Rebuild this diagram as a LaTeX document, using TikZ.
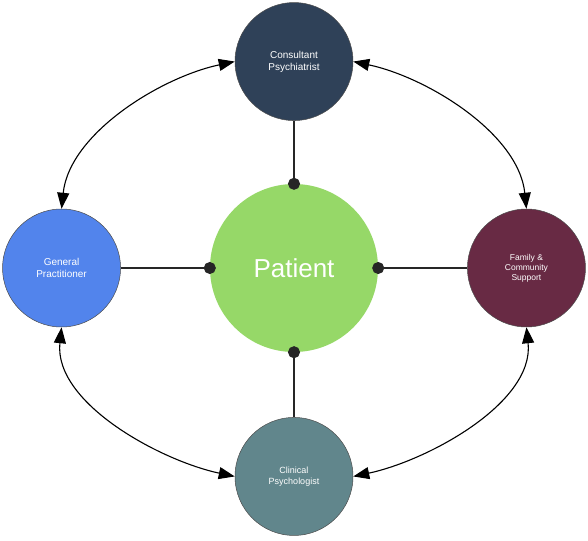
\documentclass[tikz,border=0pt]{standalone}
\usepackage{fontspec}
\setmainfont{Liberation Sans}
\usetikzlibrary{arrows.meta, positioning}
\definecolor{consultcol}{RGB}{47,65,88}
\definecolor{gpcol}{RGB}{82,132,236}
\definecolor{familycol}{RGB}{104,42,68}
\definecolor{psychcol}{RGB}{97,134,140}
\definecolor{patientcol}{RGB}{150,216,104}
\tikzstyle{member} = [circle, minimum size=118pt, inner sep=0pt, align=center, text=white, draw=black!70, line width=0.5pt, font=\fontsize{10}{12}\selectfont]
\tikzstyle{centre} = [circle, minimum size=168pt, inner sep=0pt, text=white, fill=patientcol, font=\fontsize{26}{30}\selectfont]
\tikzstyle{link} = [line width=1.3pt, draw=black!85, -{Circle[length=12pt]}, shorten >=-6pt]
\tikzstyle{arrow} = [line width=1.1pt, {Triangle[length=16pt,width=12pt]}-{Triangle[length=16pt,width=12pt]}]

\begin{document}
\begin{tikzpicture}
\useasboundingbox (-294pt,-272pt) rectangle (294pt,268pt);

% Nodes
\node (patient) [centre] at (0,0) {Patient};
\node (consultant) [member, fill=consultcol, above=63pt of patient] {Consultant\\Psychiatrist};
\node (gp) [member, fill=gpcol, left=89pt of patient] {General\\Practitioner};
\node (family) [member, fill=familycol, right=89pt of patient, font=\fontsize{8.5}{10}\selectfont] {Family \&\\Community\\Support};
\node (psych) [member, fill=psychcol, below=65pt of patient, font=\fontsize{9}{11.5}\selectfont] {Clinical\\Psychologist};

% Links to patient
\draw [link] (consultant) -- (patient.north);
\draw [link] (gp) -- (patient.west);
\draw [link] (family) -- (patient.east);
\draw [link] (psych) -- (patient.south);

% Arrows
\draw [arrow] (gp.north) to[out=84, in=192, looseness=0.85] (consultant.west);
\draw [arrow] (consultant.east) to[out=-12, in=96, looseness=0.85] (family.north);
\draw [arrow] (family.south) to[out=-84, in=12, looseness=0.85] (psych.east);
\draw [arrow] (psych.west) to[out=168, in=-96, looseness=0.85] (gp.south);

\end{tikzpicture}
\end{document}
